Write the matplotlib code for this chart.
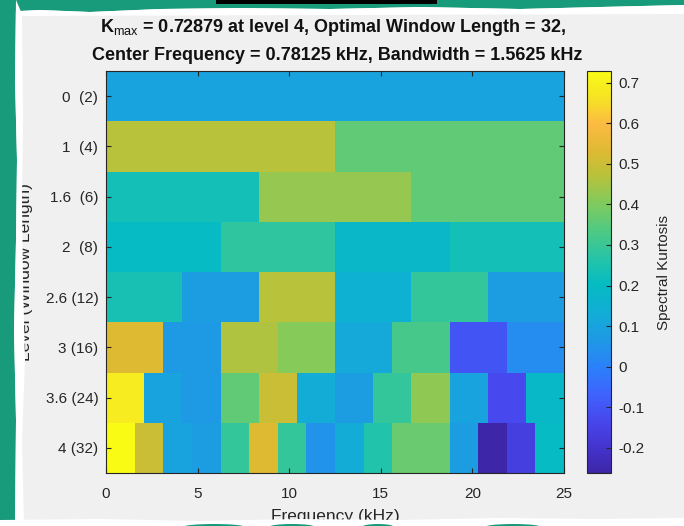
import numpy as np
import matplotlib
matplotlib.use("Agg")
import matplotlib.pyplot as plt
from matplotlib.colors import LinearSegmentedColormap, Normalize
from matplotlib.patches import Polygon, Rectangle, Ellipse

plt.rcParams['font.family'] = ['Liberation Sans', 'DejaVu Sans']
plt.rcParams['axes.unicode_minus'] = False
plt.rcParams['mathtext.fontset'] = 'custom'
plt.rcParams['mathtext.rm'] = 'Liberation Sans'
plt.rcParams['mathtext.bf'] = 'Liberation Sans:bold'

# spectral kurtosis per level, lowest to highest frequency band
sk_lev0 = [0.10]
sk_lev1 = [0.47, 0.36]
sk_lev1_6 = [0.23, 0.43, 0.36]
sk_lev2 = [0.20, 0.28, 0.18, 0.23]
sk_lev2_6 = [0.24, 0.08, 0.47, 0.15, 0.29, 0.08]
sk_lev3 = [0.53, 0.07, 0.46, 0.41, 0.12, 0.32, -0.10, 0.03]
sk_lev3_6 = [0.69, 0.10, 0.07, 0.36, 0.50, 0.13, 0.08, 0.29, 0.42, 0.10, -0.13, 0.19]
sk_lev4 = [0.72879, 0.50, 0.10, 0.08, 0.29, 0.53, 0.29, 0.05, 0.13, 0.26, 0.37, 0.37,
           0.08, -0.262, -0.16, 0.20]

level_labels = ['0  (2)', '1  (4)', '1.6  (6)', '2  (8)', '2.6 (12)', '3 (16)', '3.6 (24)', '4 (32)']
fs_khz = 25.0
sk_min, sk_max = -0.262, 0.72879

rows = [sk_lev0, sk_lev1, sk_lev1_6, sk_lev2, sk_lev2_6, sk_lev3, sk_lev3_6, sk_lev4]

# parula-like colormap
parula_pts = [
    (0.00, (0.242, 0.150, 0.660)),
    (0.06, (0.265, 0.200, 0.800)),
    (0.13, (0.280, 0.280, 0.930)),
    (0.19, (0.250, 0.380, 0.990)),
    (0.26, (0.170, 0.500, 0.980)),
    (0.33, (0.120, 0.600, 0.900)),
    (0.40, (0.070, 0.680, 0.840)),
    (0.47, (0.020, 0.735, 0.760)),
    (0.53, (0.140, 0.765, 0.660)),
    (0.60, (0.300, 0.790, 0.520)),
    (0.67, (0.500, 0.795, 0.370)),
    (0.74, (0.720, 0.760, 0.230)),
    (0.80, (0.870, 0.730, 0.200)),
    (0.87, (0.990, 0.730, 0.260)),
    (0.93, (0.965, 0.880, 0.150)),
    (1.00, (0.977, 0.984, 0.081)),
]
parula = LinearSegmentedColormap.from_list('parula', parula_pts, N=256)
norm = Normalize(vmin=sk_min, vmax=sk_max)

W, H = 684, 526
fig = plt.figure(figsize=(W / 100, H / 100), dpi=100, facecolor='#F0F0F0')

ax = fig.add_axes([106 / W, 1 - 473 / H, (564 - 106) / W, (473 - 71) / H])
for i, vals in enumerate(rows):
    edges = np.linspace(0, fs_khz, len(vals) + 1)
    mesh = ax.pcolormesh(edges, [i, i + 1], np.array([vals]), cmap=parula, norm=norm)
ax.set_xlim(0, fs_khz)
ax.set_ylim(len(rows), 0)
ax.set_xticks([0, 5, 10, 15, 20, 25])
ax.set_yticks(np.arange(len(rows)) + 0.5)
ax.set_yticklabels(level_labels)
txt_col = '#262626'
ax.tick_params(direction='in', top=True, right=True, length=3.5, width=0.8,
               labelsize=11, colors=txt_col)
ax.tick_params(axis='y', pad=5.5)
ax.tick_params(axis='x', pad=10)
for s in ax.spines.values():
    s.set_color(txt_col)
    s.set_linewidth(0.8)
ax.set_xlabel('Frequency (kHz)', fontsize=12.5, color=txt_col, labelpad=6)
ax.set_ylabel('Level (Window Length)', fontsize=12.5, color=txt_col, labelpad=9)

cax = fig.add_axes([587 / W, 1 - 473 / H, 24 / W, (473 - 71) / H])
cb = fig.colorbar(mesh, cax=cax)
cb.set_ticks(np.round(np.arange(-0.2, 0.71, 0.1), 1))
cb.set_ticklabels(['-0.2', '-0.1', '0', '0.1', '0.2', '0.3', '0.4', '0.5', '0.6', '0.7'])
cax.tick_params(direction='in', length=3.5, width=0.8, labelsize=11, colors=txt_col, pad=5)
cb.outline.set_edgecolor(txt_col)
cb.outline.set_linewidth(0.8)
cb.set_label('Spectral Kurtosis', fontsize=11, color=txt_col, labelpad=9)

fig.text(333 / W, 1 - 28 / H,
         r'$\mathbf{K}_{\mathrm{max}}$ = 0.72879 at level 4, Optimal Window Length = 32,',
         ha='center', va='center', fontsize=13, fontweight='bold', color='#111111')
fig.text(337 / W, 1 - 55 / H,
         'Center Frequency = 0.78125 kHz, Bandwidth = 1.5625 kHz',
         ha='center', va='center', fontsize=13, fontweight='bold', color='#111111')

# torn paper border on top of everything
fr = fig.add_axes([0, 0, 1, 1], zorder=20)
fr.set_xlim(0, W)
fr.set_ylim(H, 0)
fr.axis('off')
fr.patch.set_alpha(0)
teal = '#179B7B'
white = '#FFFFFF'

top_edge = [(0, 12), (40, 10), (90, 12), (160, 9), (240, 8), (330, 9), (420, 7), (520, 9), (600, 7), (684, 5)]
fr.add_patch(Polygon([(0, 0), (W, 0)] + top_edge[::-1], closed=True, fc=teal, ec='none'))
fr.add_patch(Polygon(top_edge + [(W, 14), (0, 16)], closed=True, fc=white, ec='none'))

left_edge = [(16, 0), (15, 80), (17, 160), (16, 240), (14, 330), (16, 420), (15, 526)]
left_in = [(24, 526), (22, 440), (25, 360), (23, 280), (22, 200), (23, 120), (22, 14)]
fr.add_patch(Polygon([(0, 0)] + left_edge + [(0, 526)], closed=True, fc=teal, ec='none'))
fr.add_patch(Polygon(left_edge + left_in, closed=True, fc=white, ec='none'))

bottom_edge = [(0, 520), (100, 519), (200, 521), (300, 519), (400, 520), (500, 518), (600, 519), (684, 518)]
fr.add_patch(Polygon(bottom_edge + [(W, H), (0, H)], closed=True, fc=white, ec='none'))
for cx, w in [(214, 62), (292, 46), (378, 32), (513, 56)]:
    fr.add_patch(Ellipse((cx, 527), w, 6, fc=teal, ec='none'))

fr.add_patch(Rectangle((216, 0), 221, 3.5, fc='black', ec='none'))

fig.savefig('out.png', dpi=100, facecolor=fig.get_facecolor())
